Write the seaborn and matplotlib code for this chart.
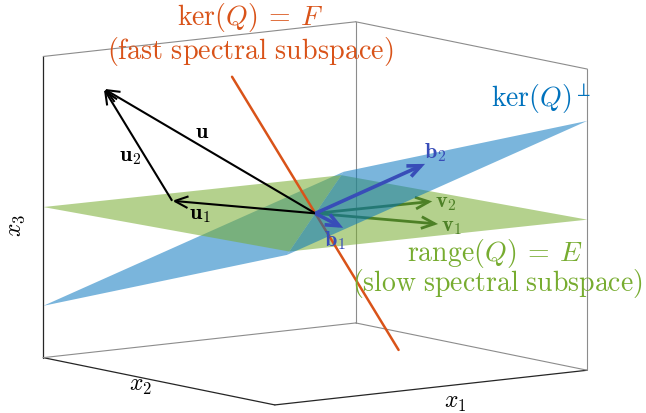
import numpy as np
import matplotlib
matplotlib.use("Agg")
import matplotlib.pyplot as plt
import seaborn as sns
from mpl_toolkits.mplot3d.art3d import Poly3DCollection

sns.set_theme(style="white")
plt.rcParams["font.family"] = ["DejaVu Sans"]
plt.rcParams["mathtext.fontset"] = "cm"

W, H = 646, 414

# ---------------- data (x1, x2, x3 coordinates) ----------------
# plane E = range(Q) (green): corners left, top, right, bottom
E_x1 = [-1.0, 0.828, 1.0, -0.828]
E_x2 = [1.0, 0.892, -1.0, -0.892]
E_x3 = [0.0, 0.018, 0.0, -0.018]
# plane ker(Q)^perp (blue): corners left, top, right, bottom
P_x1 = [-1.0, 0.90, 1.0, -0.90]
P_x2 = [1.0, 0.97, -1.0, -0.97]
P_x3 = [-0.656, 0.02, 0.656, -0.02]
# line F = ker(Q) (red)
F_x1 = [-0.324, 0.324]
F_x2 = [0.282, -0.282]
F_x3 = [0.90, -0.90]
# vectors
vec_names = ["u", "u1", "u2", "v1", "v2", "b1", "b2"]
tail_x1 = [0.0, 0.0, -0.351, 0.0, 0.0, 0.0, 0.0]
tail_x2 = [0.0, 0.0, 0.763, 0.0, 0.0, 0.0, 0.0]
tail_x3 = [0.0, 0.0, 0.004, 0.0, 0.0, 0.0, 0.0]
tip_x1 = [-0.617, -0.351, -0.617, 0.305, 0.707, -0.494, 0.707]
tip_x2 = [0.994, 0.763, 0.994, -0.649, -0.056, -0.907, 0.006]
tip_x3 = [0.742, 0.004, 0.742, -0.004, 0.007, 0.103, 0.246]
vec_labels = [r"$\mathbf{u}$", r"$\mathbf{u}_1$", r"$\mathbf{u}_2$",
              r"$\mathbf{v}_1$", r"$\mathbf{v}_2$", r"$\mathbf{b}_1$", r"$\mathbf{b}_2$"]
axis_lim = [-1.0, 1.0]

# ---------------- styles ----------------
c_red = (0.85, 0.325, 0.098)
c_blue = (0.0, 0.447, 0.741)
c_green = (0.466, 0.674, 0.188)
c_bvec = (0.22, 0.30, 0.72)
c_vvec = (0.30, 0.50, 0.15)

fig = plt.figure(figsize=(W / 100, H / 100), dpi=100)
ax = fig.add_axes([0, 0, 1, 1], projection="3d", computed_zorder=False)
ax.set_proj_type("ortho")
ax.view_init(elev=8.66, azim=-126.4)
ax.set_box_aspect((388, 390, 304.5))
ax.set_xlim(*axis_lim)
ax.set_ylim(*axis_lim)
ax.set_zlim(*axis_lim)
ax.set_axis_off()

# box edges
lo, hi = axis_lim
dark, grey = (0.15, 0.15, 0.15), (0.55, 0.55, 0.55)
edges = [
    ((lo, hi, lo), (lo, lo, lo), dark),   # x2 axis (front-left bottom)
    ((lo, lo, lo), (hi, lo, lo), dark),   # x1 axis (front-right bottom)
    ((lo, hi, lo), (lo, hi, hi), dark),   # x3 axis (left vertical)
    ((lo, hi, lo), (hi, hi, lo), grey),
    ((hi, hi, lo), (hi, lo, lo), grey),
    ((hi, hi, lo), (hi, hi, hi), grey),
    ((hi, lo, lo), (hi, lo, hi), grey),
    ((lo, hi, hi), (hi, hi, hi), grey),
    ((hi, hi, hi), (hi, lo, hi), grey),
]
for p, q, col in edges:
    ax.plot([p[0], q[0]], [p[1], q[1]], [p[2], q[2]], color=col,
            lw=0.9 if col == dark else 0.8, zorder=0.5)


def half(xs, ys, zs, idx):
    return [[(xs[i], ys[i], zs[i]) for i in idx]]


# planes split along their common line (top/bottom corners)
left_idx, right_idx = [0, 1, 3], [2, 1, 3]
ax.add_collection3d(Poly3DCollection(half(P_x1, P_x2, P_x3, left_idx),
                                     facecolor=c_blue, alpha=0.52, edgecolor="none", zorder=1))
ax.add_collection3d(Poly3DCollection(half(E_x1, E_x2, E_x3, left_idx),
                                     facecolor=c_green, alpha=0.55, edgecolor="none", zorder=2))
ax.add_collection3d(Poly3DCollection(half(E_x1, E_x2, E_x3, right_idx),
                                     facecolor=c_green, alpha=0.55, edgecolor="none", zorder=3))
ax.plot(F_x1, F_x2, F_x3, color=c_red, lw=1.8, zorder=4)
ax.add_collection3d(Poly3DCollection(half(P_x1, P_x2, P_x3, right_idx),
                                     facecolor=c_blue, alpha=0.52, edgecolor="none", zorder=6))

# arrows: projected through the axes' own 3D projection
M0 = ax.get_proj()


def to2d(x, y, z):
    p = M0 @ np.array([x, y, z, 1.0])
    return (p[0] / p[3], p[1] / p[3])


vstyle = {
    "u": ("black", 1.5, 7), "u1": ("black", 1.5, 7), "u2": ("black", 1.5, 7),
    "v1": (c_vvec, 2.0, 5), "v2": (c_vvec, 2.0, 5),
    "b1": (c_bvec, 2.6, 8), "b2": (c_bvec, 2.6, 8),
}
for i, name in enumerate(vec_names):
    col, lw, zo = vstyle[name]
    ax.annotate("", xy=to2d(tip_x1[i], tip_x2[i], tip_x3[i]),
                xytext=to2d(tail_x1[i], tail_x2[i], tail_x3[i]),
                xycoords="data", textcoords="data", annotation_clip=False,
                arrowprops=dict(arrowstyle="->,head_length=0.8,head_width=0.35",
                                color=col, lw=lw, shrinkA=0, shrinkB=0,
                                joinstyle="miter", capstyle="butt"),
                zorder=zo)


# ---------------- fit the box to the reference layout ----------------
def proj_px(x, y, z):
    M = ax.get_proj()
    p = M @ np.vstack([x, y, z, np.ones_like(x)])
    return ax.transData.transform(np.column_stack([p[0] / p[3], p[1] / p[3]]))


S = 560.0
cx, cy = 315.3, H - 214.5
tgt = np.array([[43.3, H - 358.7], [587.3, H - 70.0]])
for _ in range(6):
    ax.set_position([(cx - S / 2) / W, (cy - S / 2) / H, S / W, S / H])
    fig.canvas.draw()
    cur = proj_px(np.array([lo, hi]), np.array([hi, lo]), np.array([lo, hi]))
    s = (tgt[1, 0] - tgt[0, 0]) / (cur[1, 0] - cur[0, 0])
    off = cur.mean(axis=0) - np.array([cx, cy])
    S *= s
    cx, cy = tgt.mean(axis=0) - off * s
ax.set_position([(cx - S / 2) / W, (cy - S / 2) / H, S / W, S / H])


# ---------------- texts ----------------
def ftext(x, y, s, **kw):
    fig.text(x / W, 1 - y / H, s, ha="center", va="center", **kw)


ftext(250, 18, r"$\ker(Q)\:=\:F$", color=c_red, fontsize=20)
ftext(250, 52, r"$\mathrm{(fast\ spectral\ subspace)}$", color=c_red, fontsize=20.3)
ftext(541, 99, r"$\ker(Q)^{\perp}$", color=c_blue, fontsize=20)
ftext(495, 253, r"$\mathrm{range}(Q)\:=\:E$", color=c_green, fontsize=20)
ftext(497, 284, r"$\mathrm{(slow\ spectral\ subspace)}$", color=c_green, fontsize=20.0)

label_pos = {"u": (202, 132), "u1": (200, 215), "u2": (130, 157),
             "v1": (452, 227), "v2": (446, 203), "b1": (335, 241), "b2": (435, 153)}
label_col = {"u": "black", "u2": "black", "u1": "black",
             "v1": c_vvec, "v2": c_vvec, "b1": c_bvec, "b2": c_bvec}
for i, name in enumerate(vec_names):
    x, y = label_pos[name]
    ftext(x, y, vec_labels[i], color=label_col[name], fontsize=16)

ftext(140, 385, r"$x_2$", color="black", fontsize=17)
ftext(455, 402, r"$x_1$", color="black", fontsize=17)
ftext(15, 225, r"$x_3$", color="black", fontsize=17, rotation=90)

fig.savefig("out.png", dpi=100)
